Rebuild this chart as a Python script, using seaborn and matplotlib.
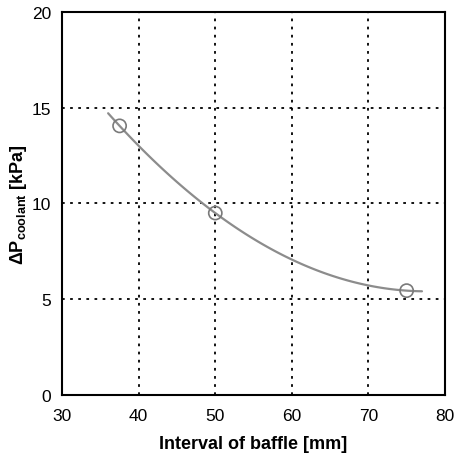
import numpy as np
import pandas as pd
import matplotlib
matplotlib.use("Agg")
import matplotlib.pyplot as plt
import seaborn as sns

# data
baffle_interval = [37.5, 50.0, 75.0]
dp_coolant = [14.05, 9.5, 5.45]
x_ticks = [30, 40, 50, 60, 70, 80]
y_ticks = [0, 5, 10, 15, 20]

df = pd.DataFrame({'interval': baffle_interval, 'dp': dp_coolant})

# quadratic trend line through the points
coef = np.polyfit(df['interval'], df['dp'], 2)
xs = np.linspace(36, 77, 100)
trend = pd.DataFrame({'interval': xs, 'dp': np.polyval(coef, xs)})

sns.set_style('white')
plt.rcParams['font.family'] = ['Liberation Sans', 'DejaVu Sans']
plt.rcParams['mathtext.fontset'] = 'custom'
plt.rcParams['mathtext.rm'] = 'Liberation Sans'
plt.rcParams['mathtext.bf'] = 'Liberation Sans:bold'
plt.rcParams['text.color'] = 'black'
plt.rcParams['axes.labelcolor'] = 'black'
plt.rcParams['xtick.color'] = 'black'
plt.rcParams['ytick.color'] = 'black'

fig = plt.figure(figsize=(4.54, 4.6), dpi=100)
ax = fig.add_axes([0.137, 0.139, 0.843, 0.833])

sns.lineplot(data=trend, x='interval', y='dp', color='#8c8c8c', linewidth=1.6, ax=ax)
sns.scatterplot(data=df, x='interval', y='dp', marker='o', s=90,
                facecolor='none', edgecolor='#7a7a7a', linewidth=1.2, ax=ax, zorder=3)

ax.set_xlim(30, 80)
ax.set_ylim(0, 20)
ax.set_xticks(x_ticks)
ax.set_yticks(y_ticks)
ax.grid(True, color='black', linestyle=(0, (1.5, 3)), linewidth=1.3)
for s in ax.spines.values():
    s.set_color('black')
    s.set_linewidth(1.5)
ax.tick_params(length=0, labelsize=12.5)
ax.tick_params(axis='y', pad=8)
ax.tick_params(axis='x', pad=9)
ax.set_xlabel('Interval of baffle [mm]', fontsize=13, fontweight='bold', labelpad=9)
ax.set_ylabel(r'$\mathbf{\Delta P_{coolant}}$ [kPa]', fontsize=13, fontweight='bold', labelpad=2)

fig.savefig('out.png', dpi=100)
